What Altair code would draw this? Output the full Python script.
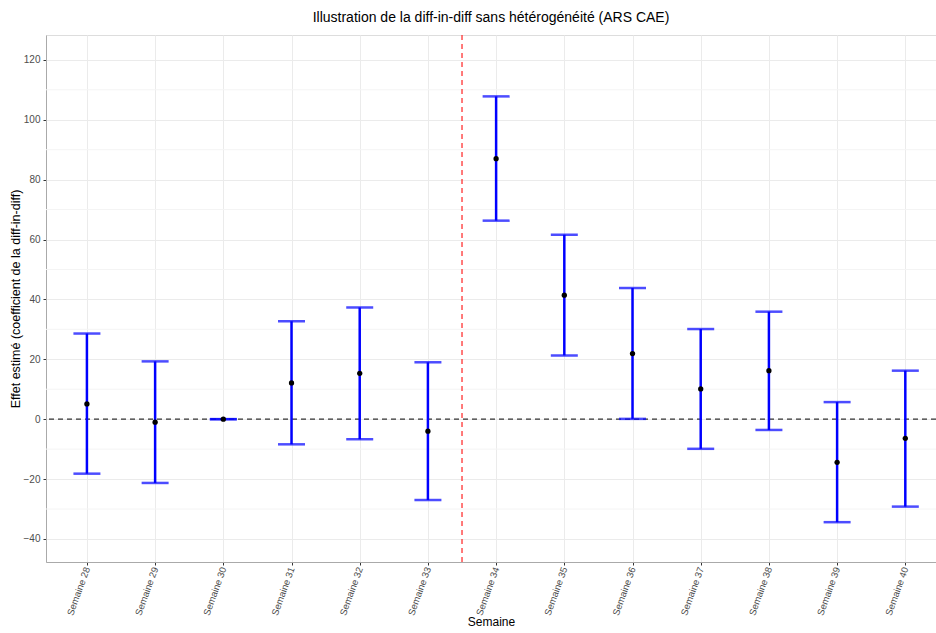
import altair as alt
import pandas as pd

weeks = [28, 29, 30, 31, 32, 33, 34, 35, 36, 37, 38, 39, 40]
estimate = [5.1, -1.0, 0.0, 12.1, 15.3, -4.0, 87.0, 41.4, 21.9, 10.1, 16.2, -14.4, -6.4]
upper = [28.6, 19.3, 0.0, 32.7, 37.3, 19.0, 107.8, 61.6, 43.8, 30.1, 35.9, 5.7, 16.2]
lower = [-18.2, -21.3, 0.0, -8.4, -6.7, -27.0, 66.3, 21.3, 0.1, -9.9, -3.6, -34.4, -29.2]
treatment_line = [33.5]
zero_line = [0]
minor_grid = [-30, -10, 10, 30, 50, 70, 90, 110]

df = pd.DataFrame({"week": weeks, "est": estimate, "hi": upper, "lo": lower})

FONT = "Liberation Sans"
xscale = alt.Scale(domain=[27.4, 40.45], nice=False, zero=False)
yscale = alt.Scale(domain=[-47.7, 128.3], nice=False, zero=False)

xaxis = alt.Axis(
    values=weeks,
    labelExpr="'Semaine ' + datum.value",
    labelAngle=-70,
    labelAlign="right",
    labelBaseline="middle",
    labelFontSize=9.5,
    labelColor="#4d4d4d",
    labelFont=FONT,
    labelPadding=2,
    tickColor="#333333",
    tickSize=3,
    domainColor="#aaaaaa",
    gridColor="#ebebeb",
    title="Semaine",
    titleFont=FONT,
    titleFontSize=12,
    titleFontWeight="normal",
    titleColor="black",
    titlePadding=0,
)
yaxis = alt.Axis(
    values=[-40, -20, 0, 20, 40, 60, 80, 100, 120],
    labelFontSize=10,
    labelColor="#4d4d4d",
    labelFont=FONT,
    tickColor="#333333",
    tickSize=3,
    labelPadding=3,
    domainColor="#aaaaaa",
    gridColor="#ebebeb",
    title="Effet estimé (coefficient de la diff-in-diff)",
    titleFont=FONT,
    titleFontSize=12.5,
    titleFontWeight="normal",
    titleColor="black",
    titlePadding=1,
)

base = alt.Chart(df)

minor = alt.Chart(pd.DataFrame({"v": minor_grid})).mark_rule(
    color="#f4f4f4", strokeWidth=1
).encode(y=alt.Y("v:Q", scale=yscale, axis=yaxis))

bars = base.mark_rule(color="#0000ff", strokeWidth=2.5).encode(
    x=alt.X("week:Q", scale=xscale, axis=xaxis),
    y=alt.Y("lo:Q", scale=yscale, axis=yaxis),
    y2="hi:Q",
)
cap_hi = base.mark_tick(color="#0000ff", orient="horizontal", size=27, thickness=2.5).encode(
    x=alt.X("week:Q", scale=xscale), y=alt.Y("hi:Q", scale=yscale)
)
cap_lo = base.mark_tick(color="#0000ff", orient="horizontal", size=27, thickness=2.5).encode(
    x=alt.X("week:Q", scale=xscale), y=alt.Y("lo:Q", scale=yscale)
)
zero = alt.Chart(pd.DataFrame({"v": zero_line})).mark_rule(
    color="#333333", strokeWidth=1.3, strokeDash=[5, 4]
).encode(y=alt.Y("v:Q", scale=yscale))
vline = alt.Chart(pd.DataFrame({"v": treatment_line})).mark_rule(
    color="#ff3333", strokeWidth=1.3, strokeDash=[5, 4]
).encode(x=alt.X("v:Q", scale=xscale, axis=xaxis))
points = base.mark_circle(color="black", size=28, opacity=1).encode(
    x=alt.X("week:Q", scale=xscale), y=alt.Y("est:Q", scale=yscale)
)

chart = alt.layer(minor, zero, vline, bars, cap_hi, cap_lo, points).properties(
    width=890,
    height=527,
    title=alt.TitleParams(
        "Illustration de la diff-in-diff sans hétérogénéité (ARS CAE)",
        font=FONT, fontSize=14, fontWeight="normal", color="black",
        anchor="middle", offset=9,
    ),
    autosize=alt.AutoSizeParams(type="none"),
    padding={"left": 46, "top": 35, "right": 0, "bottom": 71},
).configure_view(stroke="#aaaaaa", strokeWidth=1).configure(background="white")

chart.save("out.html", embed_options={"renderer": "svg", "actions": False})
